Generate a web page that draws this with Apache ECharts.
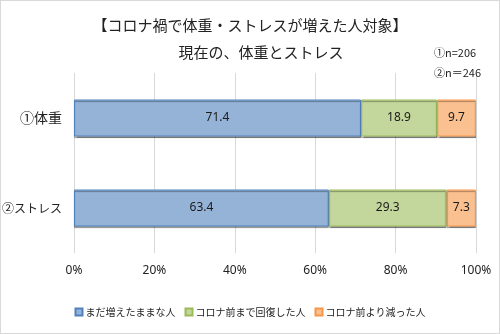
<!DOCTYPE html>
<html>
<head>
<meta charset="utf-8">
<script src="https://cdn.jsdelivr.net/npm/echarts@6/dist/echarts.min.js"></script>
<style>
html,body{margin:0;padding:0;background:#fff;}
#c{width:500px;height:334px;box-sizing:border-box;border:1px solid #d9d9d9;}
</style>
</head>
<body>
<div id="c"></div>
<script>
// Categories (top to bottom) and stacked shares in percent
const categories = ['①体重', '②ストレス'];
const stillIncreased = [71.4, 63.4];
const recovered = [18.9, 29.3];
const decreased = [9.7, 7.3];
const seriesNames = ['まだ増えたままな人', 'コロナ前まで回復した人', 'コロナ前より減った人'];
const xTicks = [0, 20, 40, 60, 80, 100];

const font = 'Noto Sans CJK JP';
const numFont = 'Noto Sans';
const chart = echarts.init(document.getElementById('c'));

function mkSeries(name, data, fill, border) {
  return {
    name: name,
    type: 'bar',
    stack: 'total',
    barWidth: 37,
    data: data,
    itemStyle: { color: fill, borderColor: border, borderWidth: 1,
      shadowColor: 'rgba(0,0,0,0.35)', shadowOffsetY: 1.5, shadowBlur: 1 },
    label: { show: true, position: 'inside', color: '#1a1a1a', fontSize: 12,
      fontFamily: numFont, formatter: p => p.value.toFixed(1) }
  };
}

chart.setOption({
  animation: false,
  textStyle: { fontFamily: font },
  title: [
    { text: '【コロナ禍で体重・ストレスが増えた人対象】', left: 'center', top: 12,
      textStyle: { fontSize: 15, fontWeight: 'normal', color: '#222', fontFamily: font } },
    { text: '現在の、体重とストレス', left: 255, textAlign: 'center', top: 39,
      textStyle: { fontSize: 15, fontWeight: 'normal', color: '#222', fontFamily: font } },
    { text: '①n=206', left: 428, top: 41,
      textStyle: { fontSize: 11, fontWeight: 'normal', color: '#222', fontFamily: font } },
    { text: '②n＝246', left: 428, top: 61,
      textStyle: { fontSize: 11, fontWeight: 'normal', color: '#222', fontFamily: font } }
  ],
  grid: { left: 73, right: 23, top: 72, bottom: 80, containLabel: false, outerBoundsMode: 'none' },
  xAxis: {
    type: 'value', min: 0, max: 100, interval: 20,
    axisLabel: { formatter: v => xTicks.includes(v) ? v + '%' : '', color: '#222', fontSize: 12, margin: 12, fontFamily: numFont },
    splitLine: { lineStyle: { color: '#d9d9d9' } },
    axisLine: { show: false }, axisTick: { show: false }
  },
  yAxis: {
    type: 'category', inverse: true, data: categories,
    axisLine: { show: false }, axisTick: { show: false },
    axisLabel: {
      margin: 12,
      formatter: (v, i) => (i === 0 ? '{a|' : '{b|') + v + '}',
      rich: {
        a: { fontSize: 14, color: '#222', fontFamily: font },
        b: { fontSize: 12, color: '#222', fontFamily: font }
      }
    }
  },
  legend: {
    bottom: 11, left: 'center', itemWidth: 7, itemHeight: 7, itemGap: 9,
    textStyle: { fontSize: 10, color: '#222', fontFamily: font, padding: [0, 0, 0, -2] },
    data: seriesNames.map(n => ({ name: n, icon: 'rect' }))
  },
  series: [
    mkSeries(seriesNames[0], stillIncreased, '#95b3d7', '#4f81bd'),
    mkSeries(seriesNames[1], recovered, '#c3d69b', '#9bbb59'),
    mkSeries(seriesNames[2], decreased, '#fac090', '#f79646')
  ]
});
</script>
</body>
</html>
